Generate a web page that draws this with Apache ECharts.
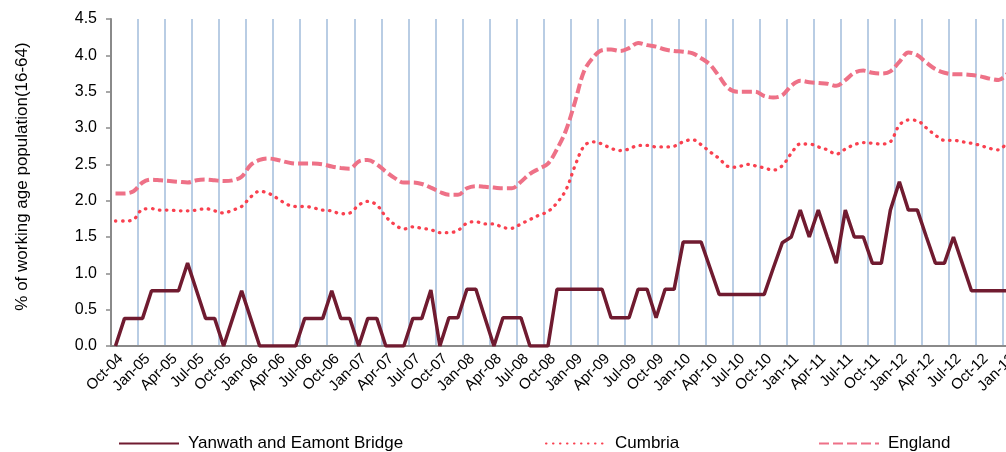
<!DOCTYPE html>
<html>
<head>
<meta charset="utf-8">
<script src="https://cdn.jsdelivr.net/npm/echarts@6/dist/echarts.min.js"></script>
<style>
  html, body { margin: 0; padding: 0; background: #fff; }
</style>
</head>
<body>
<div id="chart" style="width: 1006px; height: 452px"></div>
<script>
// months Oct-04 .. Jan-13
var months = [
  "Oct-04", "Nov-04", "Dec-04",
  "Jan-05", "Feb-05", "Mar-05", "Apr-05", "May-05", "Jun-05", "Jul-05", "Aug-05", "Sep-05", "Oct-05", "Nov-05", "Dec-05",
  "Jan-06", "Feb-06", "Mar-06", "Apr-06", "May-06", "Jun-06", "Jul-06", "Aug-06", "Sep-06", "Oct-06", "Nov-06", "Dec-06",
  "Jan-07", "Feb-07", "Mar-07", "Apr-07", "May-07", "Jun-07", "Jul-07", "Aug-07", "Sep-07", "Oct-07", "Nov-07", "Dec-07",
  "Jan-08", "Feb-08", "Mar-08", "Apr-08", "May-08", "Jun-08", "Jul-08", "Aug-08", "Sep-08", "Oct-08", "Nov-08", "Dec-08",
  "Jan-09", "Feb-09", "Mar-09", "Apr-09", "May-09", "Jun-09", "Jul-09", "Aug-09", "Sep-09", "Oct-09", "Nov-09", "Dec-09",
  "Jan-10", "Feb-10", "Mar-10", "Apr-10", "May-10", "Jun-10", "Jul-10", "Aug-10", "Sep-10", "Oct-10", "Nov-10", "Dec-10",
  "Jan-11", "Feb-11", "Mar-11", "Apr-11", "May-11", "Jun-11", "Jul-11", "Aug-11", "Sep-11", "Oct-11", "Nov-11", "Dec-11",
  "Jan-12", "Feb-12", "Mar-12", "Apr-12", "May-12", "Jun-12", "Jul-12", "Aug-12", "Sep-12", "Oct-12", "Nov-12", "Dec-12",
  "Jan-13"
];

var yanwath = [
  0, 0.38, 0.38, 0.38, 0.76, 0.76, 0.76, 0.76, 1.14, 0.76,
  0.38, 0.38, 0, 0.38, 0.76, 0.38, 0, 0, 0, 0,
  0, 0.38, 0.38, 0.38, 0.76, 0.38, 0.38, 0, 0.38, 0.38,
  0, 0, 0, 0.38, 0.38, 0.77, 0, 0.39, 0.39, 0.78,
  0.78, 0.39, 0, 0.39, 0.39, 0.39, 0, 0, 0, 0.78,
  0.78, 0.78, 0.78, 0.78, 0.78, 0.39, 0.39, 0.39, 0.78, 0.78,
  0.39, 0.78, 0.78, 1.43, 1.43, 1.43, 1.07, 0.71, 0.71, 0.71,
  0.71, 0.71, 0.71, 1.07, 1.42, 1.50, 1.87, 1.50, 1.87, 1.50,
  1.14, 1.87, 1.50, 1.50, 1.14, 1.14, 1.87, 2.26, 1.87, 1.87,
  1.50, 1.14, 1.14, 1.50, 1.13, 0.76, 0.76, 0.76, 0.76, 0.76
];

var cumbria = [
  1.72, 1.72, 1.74, 1.88, 1.89, 1.87, 1.87, 1.86, 1.86, 1.87,
  1.89, 1.86, 1.83, 1.87, 1.92, 2.05, 2.13, 2.10, 2.03, 1.95,
  1.92, 1.92, 1.90, 1.87, 1.86, 1.82, 1.83, 1.94, 1.99, 1.94,
  1.78, 1.67, 1.61, 1.64, 1.62, 1.60, 1.56, 1.56, 1.59, 1.69,
  1.71, 1.68, 1.68, 1.63, 1.62, 1.68, 1.74, 1.80, 1.85, 1.97,
  2.15, 2.48, 2.75, 2.81, 2.78, 2.72, 2.69, 2.71, 2.76, 2.76,
  2.74, 2.74, 2.75, 2.81, 2.84, 2.77, 2.67, 2.58, 2.47, 2.46,
  2.50, 2.48, 2.45, 2.42, 2.48, 2.65, 2.78, 2.78, 2.74, 2.70,
  2.64, 2.71, 2.77, 2.80, 2.79, 2.78, 2.81, 3.04, 3.11, 3.10,
  3.00, 2.90, 2.83, 2.83, 2.81, 2.79, 2.76, 2.72, 2.70, 2.81
];

var england = [
  2.10, 2.10, 2.13, 2.25, 2.29, 2.28, 2.27, 2.26, 2.25, 2.28,
  2.29, 2.28, 2.27, 2.28, 2.33, 2.49, 2.56, 2.58, 2.56, 2.53,
  2.51, 2.51, 2.51, 2.50, 2.47, 2.45, 2.44, 2.54, 2.56, 2.50,
  2.40, 2.31, 2.25, 2.25, 2.23, 2.18, 2.12, 2.08, 2.08, 2.17,
  2.20, 2.19, 2.18, 2.17, 2.17, 2.26, 2.37, 2.44, 2.51, 2.71,
  2.97, 3.36, 3.78, 3.97, 4.07, 4.08, 4.06, 4.10, 4.17, 4.14,
  4.12, 4.08, 4.06, 4.05, 4.03, 3.96, 3.87, 3.71, 3.55, 3.50,
  3.50, 3.50, 3.44, 3.42, 3.45, 3.58, 3.65, 3.63, 3.62, 3.61,
  3.58, 3.66, 3.76, 3.79, 3.76, 3.75, 3.78, 3.91, 4.04, 4.00,
  3.90, 3.81, 3.76, 3.74, 3.74, 3.73, 3.71, 3.68, 3.66, 3.75
];

var seriesNames = ["Yanwath and Eamont Bridge", "Cumbria", "England"];

var chart = echarts.init(document.getElementById("chart"));
var font = "Liberation Sans";

function legendAt(name, x) {
  return {
    data: [name],
    left: x,
    top: 435,
    padding: 0,
    itemWidth: 60,
    itemHeight: 12,
    itemStyle: { opacity: 0 },
    textStyle: { fontFamily: font, fontSize: 17, color: "#000", padding: [0, 0, 0, 4] }
  };
}

var option = {
  animation: false,
  grid: {
    left: 111,
    top: 19,
    width: 901,
    height: 327,
    outerBoundsMode: "none"
  },
  legend: [
    legendAt(seriesNames[0], 118),
    legendAt(seriesNames[1], 545),
    legendAt(seriesNames[2], 818)
  ],
  xAxis: {
    type: "category",
    data: months,
    boundaryGap: true,
    axisLine: { lineStyle: { color: "#8a8a8a", width: 2 } },
    axisTick: { interval: 2, length: 5, lineStyle: { color: "#8a8a8a", width: 1.5 } },
    axisLabel: {
      interval: 2,
      rotate: 45,
      margin: 5,
      verticalAlign: "top",
      fontFamily: font,
      fontSize: 15,
      color: "#000"
    },
    splitLine: {
      show: true,
      interval: 2,
      lineStyle: { color: "#b9cde4", width: 2 }
    }
  },
  yAxis: {
    type: "value",
    min: 0,
    max: 4.5,
    interval: 0.5,
    name: "% of working age population(16-64)",
    nameLocation: "middle",
    nameGap: 80,
    nameTextStyle: { fontFamily: font, fontSize: 17, color: "#000", padding: [0, 0, 0, 12] },
    axisLine: { show: true, lineStyle: { color: "#8a8a8a", width: 2 } },
    axisTick: { show: true, length: 5, lineStyle: { color: "#8a8a8a", width: 1.5 } },
    axisLabel: {
      fontFamily: font,
      fontSize: 16,
      color: "#000",
      margin: 14,
      formatter: function (v) { return v.toFixed(1); }
    },
    splitLine: { show: false }
  },
  series: [
    {
      name: seriesNames[2],
      type: "line",
      data: england,
      symbol: "none",
      smooth: 0.35,
      lineStyle: { color: "#ee7187", width: 4, type: [10, 4] },
      itemStyle: { color: "#ee7187" }
    },
    {
      name: seriesNames[1],
      type: "line",
      data: cumbria,
      symbol: "none",
      smooth: 0.35,
      lineStyle: { color: "#f9404f", width: 3.3, type: [0.5, 6.5], cap: "round" },
      itemStyle: { color: "#f9404f" }
    },
    {
      name: seriesNames[0],
      type: "line",
      data: yanwath,
      symbol: "none",
      lineStyle: { color: "#701b30", width: 3.5 },
      itemStyle: { color: "#701b30" }
    }
  ]
};

chart.setOption(option);
</script>
</body>
</html>
